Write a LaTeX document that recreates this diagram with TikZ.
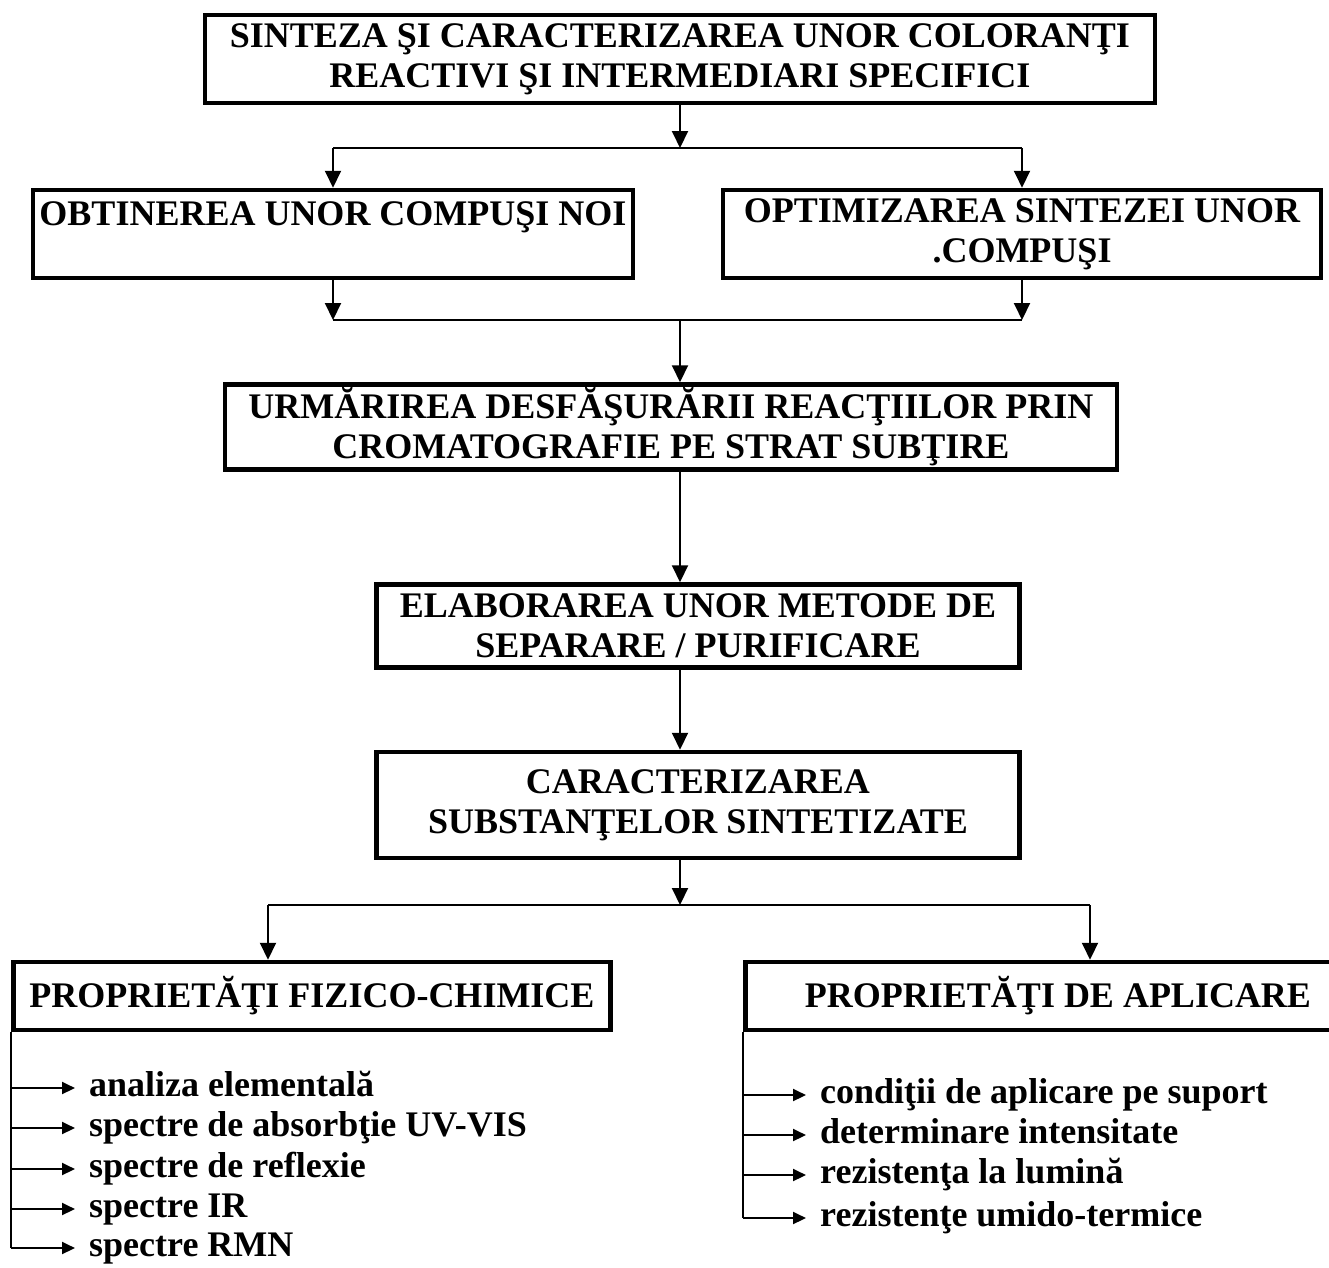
\documentclass[tikz,border=0pt]{standalone}
\usepackage{fontspec}
\setmainfont{Liberation Serif}
\usetikzlibrary{
	arrows.meta,
	positioning
}

\tikzset{
	chartbox/.style={draw, line width=4.5pt, align=center, inner sep=0pt,
		font=\fontsize{36}{40}\selectfont\bfseries},
	conn/.style={line width=2pt, -{Triangle[length=17pt,width=16pt]}},
	shortconn/.style={line width=2pt, -{Triangle[length=13pt,width=12pt]}},
	link/.style={line width=2pt},
	listitem/.style={anchor=west, inner sep=0pt, text height=25pt, text depth=8pt,
		font=\fontsize{36}{40}\selectfont\bfseries}
}

\begin{document}
\begin{tikzpicture}[x=1pt, y=-1pt]
		\useasboundingbox (0,0) rectangle (1329,1267);
		
		% casetele schemei
		\node[chartbox, minimum width=950pt, minimum height=88pt] (top) at (680,59)
			{SINTEZA ŞI CARACTERIZAREA UNOR COLORANŢI\\REACTIVI ŞI INTERMEDIARI SPECIFICI};
		\node[chartbox, minimum width=600pt, minimum height=88pt] (obt) at (333,234)
			{OBTINEREA UNOR COMPUŞI NOI\\~};
		\node[chartbox, minimum width=598pt, minimum height=88pt] (opt) at (1022,234)
			{OPTIMIZAREA SINTEZEI UNOR\\.COMPUŞI};
		\node[chartbox, minimum width=892pt, minimum height=85pt] (urm) at (671,427)
			{URMĂRIREA DESFĂŞURĂRII REACŢIILOR PRIN\\CROMATOGRAFIE PE STRAT SUBŢIRE};
		\node[chartbox, minimum width=643pt, minimum height=83pt] (elab) at (698,626)
			{ELABORAREA UNOR METODE DE\\SEPARARE / PURIFICARE};
		\node[chartbox, minimum width=643pt, minimum height=106pt] (car) at (698,805)
			{CARACTERIZAREA\\SUBSTANŢELOR SINTETIZATE};
		\node[chartbox, minimum width=597pt, minimum height=68pt] (fiz) at (312,996)
			{PROPRIETĂŢI FIZICO-CHIMICE};
		\begin{scope}
			\clip (0,0) rectangle (1329,1267);
			\node[chartbox, minimum width=625pt, minimum height=68pt] (apl) at (1058,996)
				{PROPRIETĂŢI DE APLICARE};
		\end{scope}
		
		% puncte de ramificare
		\coordinate (split1) at (680,148);
		\coordinate (merge1) at (680,320);
		\coordinate (lsplit) at (268,905);
		\coordinate (rsplit) at (1090,905);
		
		% legaturi intre casete
		\draw[conn] (top.south -| split1) -- (split1);
		\draw[link] (obt.north |- split1) -- (opt.north |- split1);
		\draw[conn] (obt.north |- split1) -- (obt.north);
		\draw[conn] (opt.north |- split1) -- (opt.north);
		
		\draw[conn] (obt.south) -- (obt.south |- merge1);
		\draw[conn] (opt.south) -- (opt.south |- merge1);
		\draw[link] (obt.south |- merge1) -- (opt.south |- merge1);
		\draw[conn] (merge1) -- (urm.north -| merge1);
		\draw[conn] (urm.south -| merge1) -- (elab.north -| merge1);
		\draw[conn] (elab.south -| merge1) -- (car.north -| merge1);
		\draw[conn] (car.south -| merge1) -- (lsplit -| merge1);
		\draw[link] (lsplit) -- (rsplit);
		\draw[conn] (lsplit) -- (lsplit |- fiz.north);
		\draw[conn] (rsplit) -- (rsplit |- apl.north);
		
		% proprietati fizico-chimice
		\node[listitem] (f1) at (89,1088) {analiza elementală};
		\node[listitem] (f2) at (89,1128) {spectre de absorbţie UV-VIS};
		\node[listitem] (f3) at (89,1169) {spectre de reflexie};
		\node[listitem] (f4) at (89,1209) {spectre IR};
		\node[listitem] (f5) at (89,1248) {spectre RMN};
		\draw[link] (fiz.south west) -- (fiz.south west |- f5.west);
		\draw[shortconn] (fiz.south west |- f1.west) -- ([xshift=-14pt]f1.west);
		\draw[shortconn] (fiz.south west |- f2.west) -- ([xshift=-14pt]f2.west);
		\draw[shortconn] (fiz.south west |- f3.west) -- ([xshift=-14pt]f3.west);
		\draw[shortconn] (fiz.south west |- f4.west) -- ([xshift=-14pt]f4.west);
		\draw[shortconn] (fiz.south west |- f5.west) -- ([xshift=-14pt]f5.west);
		
		% proprietati de aplicare
		\node[listitem] (a1) at (820,1095) {condiţii de aplicare pe suport};
		\node[listitem] (a2) at (820,1135) {determinare intensitate};
		\node[listitem] (a3) at (820,1175) {rezistenţa la lumină};
		\node[listitem] (a4) at (820,1218) {rezistenţe umido-termice};
		\draw[link] (apl.south west) -- (apl.south west |- a4.west);
		\draw[shortconn] (apl.south west |- a1.west) -- ([xshift=-14pt]a1.west);
		\draw[shortconn] (apl.south west |- a2.west) -- ([xshift=-14pt]a2.west);
		\draw[shortconn] (apl.south west |- a3.west) -- ([xshift=-14pt]a3.west);
		\draw[shortconn] (apl.south west |- a4.west) -- ([xshift=-14pt]a4.west);
	\end{tikzpicture}
\end{document}
